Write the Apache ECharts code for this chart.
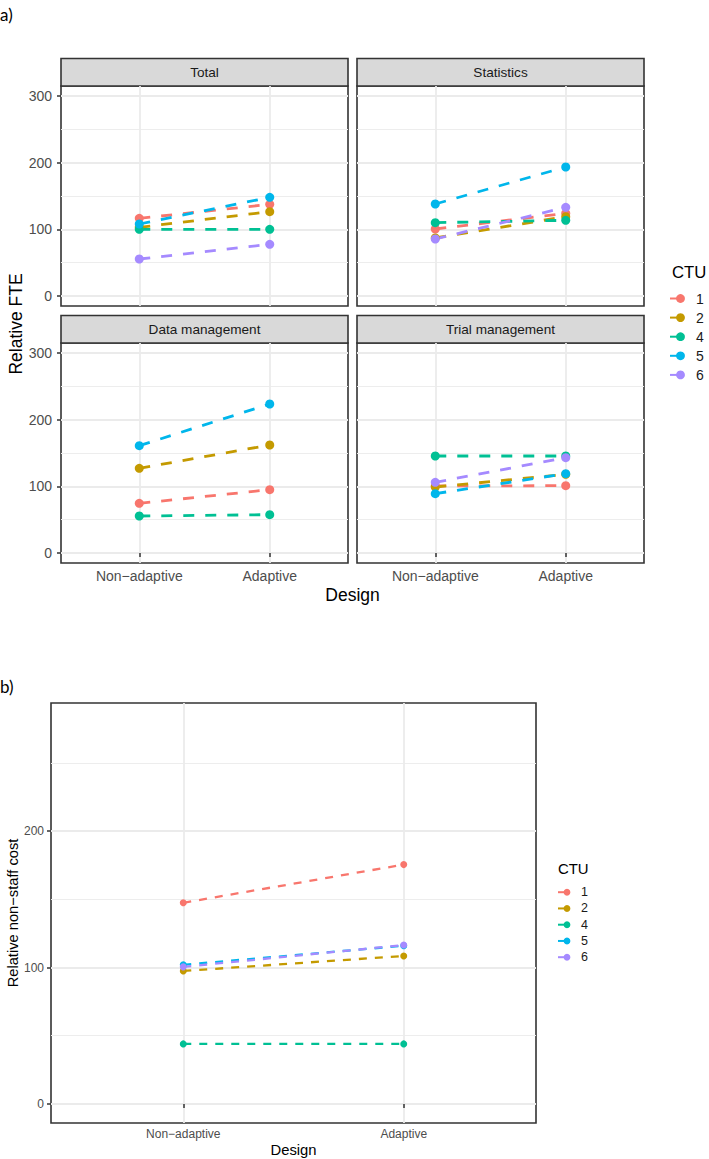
<!DOCTYPE html>
<html><head><meta charset="utf-8">
<script src="https://cdn.jsdelivr.net/npm/echarts@6/dist/echarts.min.js"></script>
<style>html,body{margin:0;padding:0;background:#fff}#c{width:709px;height:1159px}</style>
</head><body><div id="c"></div>
<script>
// ---------- data ----------
const designs = ['Non\u2212adaptive', 'Adaptive'];
const ctus = ['1', '2', '4', '5', '6'];
const panelTitles = ['Total', 'Statistics', 'Data management', 'Trial management'];
// each row: one CTU, [Non-adaptive, Adaptive]
const fteTotal = [[116.5, 137.5], [103, 126.5], [100, 100], [108, 148], [55.5, 77.5]];
const fteStatistics = [[100.5, 124], [87, 119], [110, 113.5], [138, 193.5], [85.5, 133]];
const fteDataManagement = [[74.5, 95], [127, 162], [55.5, 57.5], [161, 223.5], [null, null]];
const fteTrialManagement = [[100.5, 101], [99, 118], [145.5, 145.5], [89, 119], [106, 143]];
const nonStaffCost = [[147.5, 175.5], [97.5, 108.5], [44, 44], [102, 116], [100.5, 116.5]];
const fteTicks = [0, 100, 200, 300];
const fteMinorTicks = [50, 150, 250];
const costTicks = [0, 100, 200];
const costMinorTicks = [50, 150, 250];
const designTicks = [1, 2];

// ---------- style ----------
const colors = ['#F8766D', '#C49A00', '#00C094', '#00B6EB', '#A58AFF'];
const FONT = 'Liberation Sans, Arial, sans-serif';
const panelData = [fteTotal, fteStatistics, fteDataManagement, fteTrialManagement];
const gridsA = [
  { left: 61, top: 86, width: 287, height: 220 },
  { left: 357, top: 86, width: 287, height: 220 },
  { left: 61, top: 343, width: 287, height: 220 },
  { left: 357, top: 343, width: 287, height: 220 }
];
const gridB = { left: 51, top: 703, width: 485, height: 420 };

const grids = [], xAxes = [], yAxes = [], series = [], graphics = [];

function makeX(gi, showLabels, fontSize, margin) {
  return {
    type: 'value', gridIndex: gi, min: 0.4, max: 2.6,
    axisLine: { show: false },
    axisTick: { show: showLabels, customValues: designTicks, length: 4, lineStyle: { color: '#333', width: 1.5 } },
    axisLabel: { show: showLabels, customValues: designTicks, formatter: v => designs[Math.round(v) - 1] || '',
      color: '#4d4d4d', fontSize: fontSize, fontFamily: FONT, margin: margin },
    splitLine: { show: true, lineStyle: { color: '#ebebeb', width: 1.8 } }
  };
}
function makeY(gi, min, max, major, minor, showLabels, fontSize, margin) {
  return [{
    type: 'value', gridIndex: gi, min: min, max: max,
    axisLine: { show: false },
    axisTick: { show: showLabels, customValues: major, length: 4, lineStyle: { color: '#333', width: 1.5 } },
    axisLabel: { show: showLabels, customValues: major, color: '#4d4d4d', fontSize: fontSize, fontFamily: FONT, margin: margin },
    splitLine: { show: true, lineStyle: { color: '#ebebeb', width: 1.8 } }
  }, {
    type: 'value', gridIndex: gi, min: min, max: max, position: 'left',
    axisLine: { show: false },
    axisTick: { show: false, customValues: minor },
    axisLabel: { show: false, customValues: minor },
    splitLine: { show: true, lineStyle: { color: '#ededed', width: 1 } }
  }];
}

gridsA.forEach((g, p) => {
  grids.push(Object.assign({ show: true, backgroundColor: '#fff', borderColor: '#333', borderWidth: 1.6 }, g));
  xAxes.push(makeX(p, p >= 2, 14, 6));
  yAxes.push(...makeY(p, -15, 315, fteTicks, fteMinorTicks, p % 2 === 0, 14, 9));
  ctus.forEach((c, i) => {
    const vals = panelData[p][i];
    series.push({
      type: 'line', name: c, xAxisIndex: p, yAxisIndex: 2 * p,
      data: vals[0] == null ? [] : designTicks.map((d, k) => [d, vals[k]]),
      symbol: 'circle', symbolSize: 9, showSymbol: true,
      lineStyle: { color: colors[i], width: 2.8, type: [11, 11] },
      itemStyle: { color: colors[i] }, emphasis: { disabled: true }, z: 3
    });
  });
  // strip
  graphics.push({ type: 'rect', shape: { x: g.left, y: g.top - 27.5, width: g.width, height: 27.5 },
    style: { fill: '#d9d9d9', stroke: '#333', lineWidth: 1.6 } });
  graphics.push({ type: 'text', x: g.left + g.width / 2, y: g.top - 13.5,
    style: { text: panelTitles[p], fontSize: 13.6, fontFamily: FONT, fill: '#1a1a1a', align: 'center', verticalAlign: 'middle' } });
});

grids.push(Object.assign({ show: true, backgroundColor: '#fff', borderColor: '#333', borderWidth: 1.6 }, gridB));
xAxes.push(makeX(4, true, 12, 5));
yAxes.push(...makeY(4, -14, 294, costTicks, costMinorTicks, true, 12, 7));
ctus.forEach((c, i) => {
  series.push({
    type: 'line', name: c, xAxisIndex: 4, yAxisIndex: 8,
    data: designTicks.map((d, k) => [d, nonStaffCost[i][k]]),
    symbol: 'circle', symbolSize: 7,
    lineStyle: { color: colors[i], width: 2.3, type: [8, 8] },
    itemStyle: { color: colors[i] }, emphasis: { disabled: true }, z: 3
  });
});

// titles and labels
function txt(t, x, y, size, opts) {
  graphics.push(Object.assign({ type: 'text', x: x, y: y,
    style: { text: t, fontSize: size, fontFamily: FONT, fill: '#000', align: 'center', verticalAlign: 'middle' } }, opts || {}));
}
graphics.push({ type: 'text', x: 0, y: 14, style: { text: 'a)', fontSize: 17, fontFamily: 'Lato, Open Sans, sans-serif', fill: '#000', align: 'left', verticalAlign: 'middle' } });
graphics.push({ type: 'text', x: 0, y: 686, style: { text: 'b)', fontSize: 17, fontFamily: 'Lato, Open Sans, sans-serif', fill: '#000', align: 'left', verticalAlign: 'middle' } });
txt('Design', 352.5, 595, 17.5);
txt('Relative FTE', 15.5, 324, 17.5, { rotation: Math.PI / 2 });
txt('Design', 293.5, 1150, 14.8);
txt('Relative non\u2212staff cost', 12.5, 913, 14.7, { rotation: Math.PI / 2 });
graphics.push({ type: 'text', x: 672, y: 272, style: { text: 'CTU', fontSize: 16.7, fontFamily: FONT, fill: '#000', align: 'left', verticalAlign: 'middle' } });
graphics.push({ type: 'text', x: 558, y: 869, style: { text: 'CTU', fontSize: 14.9, fontFamily: FONT, fill: '#000', align: 'left', verticalAlign: 'middle' } });

const option = {
  animation: false,
  backgroundColor: '#fff',
  grid: grids, xAxis: xAxes, yAxis: yAxes, series: series,
  legend: [{
    data: ctus, orient: 'vertical', left: 669, top: 291.5,
    itemWidth: 21, itemHeight: 11, itemGap: 5.1, selectedMode: false, padding: 0,
    textStyle: { fontSize: 14, fontFamily: FONT, color: '#1a1a1a', lineHeight: 11 }
  }, {
    data: ctus, orient: 'vertical', left: 557, top: 885.7,
    itemWidth: 18, itemHeight: 8.5, itemGap: 3.25, selectedMode: false, padding: 0,
    textStyle: { fontSize: 12.5, fontFamily: FONT, color: '#1a1a1a', lineHeight: 8.5 }
  }],
  graphic: graphics
};
const chart = echarts.init(document.getElementById('c'), null, { renderer: 'svg' });
chart.setOption(option);
</script></body></html>
